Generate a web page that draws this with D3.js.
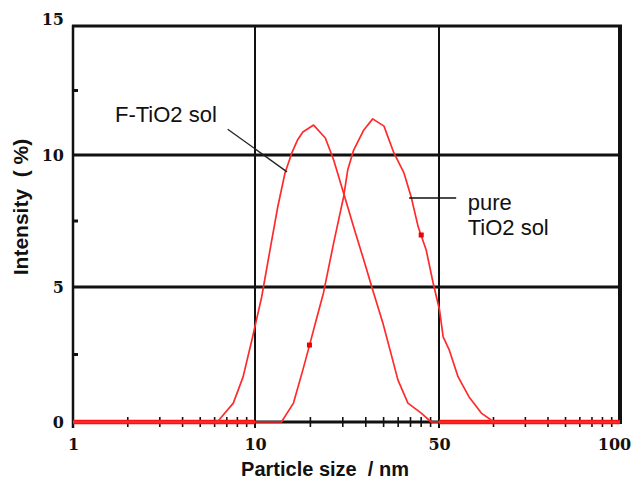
<!DOCTYPE html>
<html>
<head>
<meta charset="utf-8">
<script src="https://cdn.jsdelivr.net/npm/d3@7"></script>
<style>
  body { margin: 0; background: #fff; }
  text { white-space: pre; }
</style>
</head>
<body>
<svg id="chart" width="632" height="484"></svg>
<script>
// Particle size axis: labelled break points (each interval drawn one decade wide)
const sizeBreaks = [1, 10, 50, 100];
const sizeTickLabels = ["1", "10", "50", "100"];

// Intensity axis
const intensityTicks = [0, 5, 10, 15];
const intensityMinorTicks = [2.5, 7.5, 12.5];

// F-TiO2 sol size distribution
const fSize = [1, 6.2, 7.6, 8.6, 9.7, 10.6, 11.4, 12.2, 13.0, 13.8, 14.5, 15.2, 16.7,
  18.5, 19.9, 21.7, 23.7, 25.9, 28.0, 30.6, 32.8, 34.9, 38.1, 42.8, 46.7, 100];
const fIntensity = [0, 0, 0.70, 1.67, 3.15, 4.63, 6.40, 8.03, 9.32, 10.08, 10.58, 10.89, 11.16,
  10.66, 9.81, 8.56, 7.27, 6.02, 4.89, 3.67, 2.56, 1.56, 0.70, 0.33, 0, 0];

// pure TiO2 sol size distribution
const pureSize = [1, 12.6, 14.0, 15.2, 16.2, 17.2, 18.2, 19.9, 21.7, 22.5, 23.7, 25.9, 28.0,
  30.9, 33.7, 36.8, 39.2, 41.7, 44.7, 47.5, 50.1, 50.8, 52.0, 53.8, 56.1, 58.8, 61.7, 100];
const pureIntensity = [0, 0, 0.70, 1.93, 2.93, 3.89, 4.78, 6.67, 8.41, 9.43, 10.19, 10.97, 11.40,
  11.12, 10.08, 9.32, 8.41, 7.27, 6.40, 5.15, 4.15, 3.15, 2.67, 1.67, 0.93, 0.33, 0, 0];

// highlighted measurement points on the pure TiO2 curve
const pureMarkSize = [16.1, 42.8];
const pureMarkIntensity = [2.85, 6.97];

// ranges where the baseline is traced in red
const zeroRunStart = [1, 50];
const zeroRunEnd = [10, 100];

const svg = d3.select("#chart");
const red = "#ff2b2b";

const x = d3.scaleLog().domain(sizeBreaks).range([73, 255, 439, 620]);
const y = d3.scaleLinear().domain(intensityTicks).range([422, 287, 155, 26]);

const xL = x.range()[0], xR = x.range()[x.range().length - 1];
const yB = y(0), yT = y(15);

// minor ticks: log spacing inside every labelled interval
const minorSizes = [];
for (let i = 0; i < sizeBreaks.length - 1; i++) {
  const a = sizeBreaks[i], b = sizeBreaks[i + 1];
  for (let k = 2; k <= 9; k++) minorSizes.push(a * Math.pow(b / a, Math.log10(k)));
}

// horizontal grid lines
svg.append("g").selectAll("line")
  .data(intensityTicks.filter(v => v > 0 && v < 15))
  .join("line")
  .attr("x1", xL).attr("x2", xR)
  .attr("y1", d => y(d)).attr("y2", d => y(d))
  .attr("stroke", "#111").attr("stroke-width", 3);

// vertical grid lines
svg.append("g").selectAll("line")
  .data(sizeBreaks.slice(1, -1))
  .join("line")
  .attr("x1", d => x(d)).attr("x2", d => x(d))
  .attr("y1", yT).attr("y2", yB + 6)
  .attr("stroke", "#111").attr("stroke-width", 2);

// frame
svg.append("line").attr("x1", xL).attr("x2", xL).attr("y1", yT - 1).attr("y2", yB + 6)
  .attr("stroke", "#111").attr("stroke-width", 2.5);
svg.append("line").attr("x1", xL - 1).attr("x2", xR + 2).attr("y1", yT).attr("y2", yT)
  .attr("stroke", "#111").attr("stroke-width", 3);
svg.append("line").attr("x1", xR).attr("x2", xR).attr("y1", yT - 1).attr("y2", yB + 2)
  .attr("stroke", "#111").attr("stroke-width", 4);

// bottom axis: labels through d3.axisBottom, baseline and minor ticks
const xAxis = d3.axisBottom(x)
  .tickValues(sizeBreaks)
  .tickFormat((d, i) => sizeTickLabels[i])
  .tickSize(0).tickPadding(17);
const gx = svg.append("g").attr("transform", `translate(0,${yB})`).call(xAxis);
gx.select(".domain").remove();
gx.selectAll("text")
  .attr("font-family", "DejaVu Serif").attr("font-weight", "bold")
  .attr("font-size", 16).attr("fill", "#111")
  .attr("dx", d => d === 100 ? -6 : 0);

svg.append("line").attr("x1", xL).attr("x2", xR).attr("y1", yB).attr("y2", yB)
  .attr("stroke", "#111").attr("stroke-width", 3);

svg.append("g").selectAll("line")
  .data(minorSizes)
  .join("line")
  .attr("x1", d => x(d)).attr("x2", d => x(d))
  .attr("y1", yB - 5).attr("y2", yB + 5)
  .attr("stroke", "#111").attr("stroke-width", 1.6);

// left axis: labels through d3.axisLeft plus minor ticks
const yAxis = d3.axisLeft(y).tickValues(intensityTicks).tickSize(0).tickPadding(9);
const gy = svg.append("g").attr("transform", `translate(${xL},0)`).call(yAxis);
gy.select(".domain").remove();
gy.selectAll("text")
  .attr("font-family", "DejaVu Serif").attr("font-weight", "bold")
  .attr("font-size", 16).attr("fill", "#111")
  .attr("dy", d => d === 15 ? "-0.12em" : "0.32em");

svg.append("g").selectAll("line")
  .data(intensityMinorTicks)
  .join("line")
  .attr("x1", xL).attr("x2", xL + 5)
  .attr("y1", d => y(d)).attr("y2", d => y(d))
  .attr("stroke", "#111").attr("stroke-width", 3);

// red trace along the zero line
svg.append("g").selectAll("line")
  .data(zeroRunStart.map((s, i) => [s, zeroRunEnd[i]]))
  .join("line")
  .attr("x1", d => x(d[0])).attr("x2", d => x(d[1]))
  .attr("y1", yB).attr("y2", yB)
  .attr("stroke", "#ff1010").attr("stroke-width", 4.5);

// distribution curves
const line = d3.line().x(d => x(d[0])).y(d => y(d[1]));
const series = [
  fSize.map((s, i) => [s, fIntensity[i]]),
  pureSize.map((s, i) => [s, pureIntensity[i]])
];
svg.append("g").selectAll("path")
  .data(series)
  .join("path")
  .attr("d", line)
  .attr("fill", "none")
  .attr("stroke", red)
  .attr("stroke-width", 1.7)
  .attr("stroke-linejoin", "round");

svg.append("g").selectAll("rect")
  .data(pureMarkSize.map((s, i) => [s, pureMarkIntensity[i]]))
  .join("rect")
  .attr("x", d => x(d[0]) - 2.5).attr("y", d => y(d[1]) - 2.5)
  .attr("width", 5).attr("height", 5)
  .attr("fill", "#ee0000");

// curve labels with leader lines
const labelFont = { family: "Liberation Sans", size: 22 };
svg.append("text")
  .attr("x", x(1.7)).attr("y", y(11.28))
  .attr("font-family", labelFont.family).attr("font-size", labelFont.size)
  .attr("fill", "#111")
  .text("F-TiO2 sol");
svg.append("line")
  .attr("x1", x(7.08)).attr("y1", y(11.0))
  .attr("x2", x(13.23)).attr("y2", y(9.36))
  .attr("stroke", "#222").attr("stroke-width", 1.3);

svg.append("line")
  .attr("x1", x(38.5)).attr("y1", y(8.37))
  .attr("x2", x(53.4)).attr("y2", y(8.37))
  .attr("stroke", "#111").attr("stroke-width", 1.6);
svg.append("text")
  .attr("x", x(55.8)).attr("y", y(7.92))
  .attr("font-family", labelFont.family).attr("font-size", labelFont.size)
  .attr("fill", "#111")
  .text("pure");
svg.append("text")
  .attr("x", x(55.8)).attr("y", y(6.97))
  .attr("font-family", labelFont.family).attr("font-size", labelFont.size)
  .attr("fill", "#111")
  .text("TiO2 sol");

// axis titles
svg.append("text")
  .attr("x", 325).attr("y", 476)
  .attr("text-anchor", "middle")
  .attr("font-family", "Liberation Sans").attr("font-weight", "bold")
  .attr("font-size", 20).attr("fill", "#111")
  .text("Particle size  / nm");

svg.append("text")
  .attr("transform", "translate(28,207) rotate(-90)")
  .attr("text-anchor", "middle")
  .attr("font-family", "Liberation Sans").attr("font-weight", "bold")
  .attr("font-size", 21).attr("fill", "#111")
  .text("Intensity  ( %)");
</script>
</body>
</html>
